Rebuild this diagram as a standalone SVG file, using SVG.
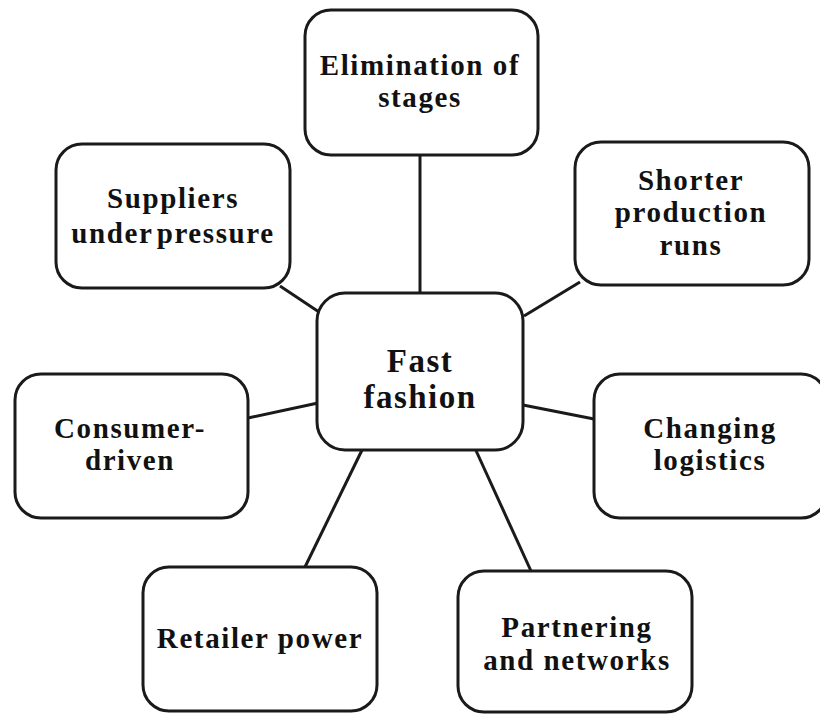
<svg xmlns="http://www.w3.org/2000/svg" width="820" height="715" viewBox="0 0 820 715">
  <style>
    .box { fill: #ffffff; stroke: #1a1a1a; stroke-width: 3; }
    .link { stroke: #1a1a1a; stroke-width: 3; fill: none; }
    .lbl { font-family: "Liberation Serif", "Times New Roman", serif; font-weight: bold; font-size: 29px; letter-spacing: 1.6px; fill: #111111; text-anchor: middle; }
    .hub { font-size: 33px; letter-spacing: 1.5px; }
  </style>
  <rect width="820" height="715" fill="#ffffff"/>

  <!-- spokes from the hub to each factor -->
  <g id="connectors">
    <line class="link" x1="420" y1="155" x2="420" y2="294"/>
    <line class="link" x1="280" y1="286" x2="319" y2="312"/>
    <line class="link" x1="524" y1="316" x2="580" y2="282"/>
    <line class="link" x1="248" y1="418" x2="318" y2="403"/>
    <line class="link" x1="523" y1="405" x2="594" y2="419"/>
    <line class="link" x1="305" y1="567" x2="364" y2="446"/>
    <line class="link" x1="531" y1="571" x2="473" y2="444"/>
  </g>

  <g id="fast-fashion">
    <rect class="box" x="317" y="293" width="206" height="157" rx="28"/>
    <text class="lbl hub" x="420" y="372">Fast</text>
    <text class="lbl hub" x="420" y="408">fashion</text>
  </g>

  <g id="elimination">
    <rect class="box" x="305" y="10" width="233" height="145" rx="26"/>
    <text class="lbl" x="420" y="75">Elimination of</text>
    <text class="lbl" x="420" y="107">stages</text>
  </g>

  <g id="suppliers">
    <rect class="box" x="56" y="144" width="234" height="144" rx="26"/>
    <text class="lbl" x="173" y="208">Suppliers</text>
    <text class="lbl" x="173" y="243" word-spacing="-5">under pressure</text>
  </g>

  <g id="shorter-runs">
    <rect class="box" x="575" y="142" width="234" height="143" rx="26"/>
    <text class="lbl" x="691" y="190">Shorter</text>
    <text class="lbl" x="691" y="222">production</text>
    <text class="lbl" x="691" y="255">runs</text>
  </g>

  <g id="consumer-driven">
    <rect class="box" x="15" y="374" width="233" height="144" rx="26"/>
    <text class="lbl" x="130" y="438">Consumer-</text>
    <text class="lbl" x="130" y="470">driven</text>
  </g>

  <g id="logistics">
    <rect class="box" x="594" y="374" width="233" height="144" rx="26"/>
    <text class="lbl" x="710" y="438">Changing</text>
    <text class="lbl" x="710" y="470">logistics</text>
  </g>

  <g id="retailer-power">
    <rect class="box" x="143" y="567" width="234" height="144" rx="26"/>
    <text class="lbl" x="260" y="648">Retailer power</text>
  </g>

  <g id="partnering">
    <rect class="box" x="458" y="571" width="234" height="141" rx="26"/>
    <text class="lbl" x="577" y="637">Partnering</text>
    <text class="lbl" x="577" y="670">and networks</text>
  </g>
</svg>
